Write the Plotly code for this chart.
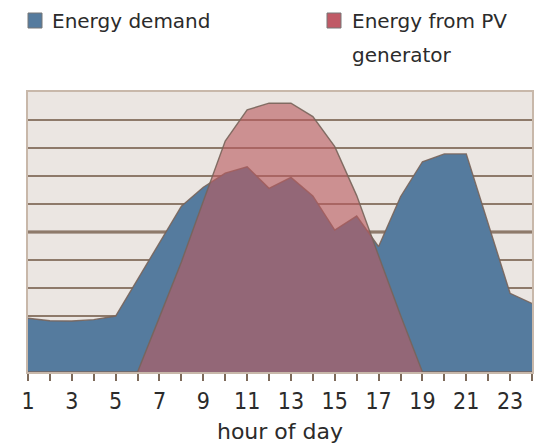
import plotly.graph_objects as go

hours = list(range(1, 25))
demand = [1.92, 1.83, 1.82, 1.87, 2.0, 3.32, 4.62, 5.92, 6.6, 7.1, 7.33, 6.56,
          6.95, 6.29, 5.07, 5.57, 4.48, 6.26, 7.51, 7.79, 7.79, 5.34, 2.81, 2.45]
pv = [0, 0, 0, 0, 0, 0, 1.96, 3.93, 6.1, 8.25, 9.36, 9.6,
      9.6, 9.12, 8.05, 6.3, 4.15, 2.03, 0, 0, 0, 0, 0, 0]
tick_labels = [str(h) for h in range(1, 25, 2)]
series_names = ["Energy demand", "Energy from PV", "generator"]

BLUE = "#557b9e"
PINK_FILL = "rgba(186,90,96,0.62)"
PINK_KEY = "#c05a66"
EDGE = "rgba(120,100,90,0.9)"
GRID = "#8e7a6a"
TEXT = "#2b2b2b"
FONT = "DejaVu Sans"
TICKFONT = "DejaVu Sans Condensed, DejaVu Sans"

fig = go.Figure()
fig.add_trace(go.Scatter(x=hours, y=demand, mode="lines", fill="tozeroy",
                         fillcolor=BLUE, line=dict(color=EDGE, width=1.4),
                         name=series_names[0], hoverinfo="x+y"))
fig.add_trace(go.Scatter(x=hours, y=pv, mode="lines", fill="tozeroy",
                         fillcolor=PINK_FILL, line=dict(color=EDGE, width=1.4),
                         name=series_names[1] + " " + series_names[2], hoverinfo="x+y"))

# emphasised mid line
fig.add_shape(type="line", xref="paper", yref="y", x0=0, x1=1, y0=5, y1=5,
              line=dict(color="#7a6352", width=3), layer="between")

W, H = 538, 447
L, R, T, B = 28, 6, 92, 75
pw, ph = W - L - R, H - T - B

def px(x):
    return (x - L) / pw

def py(y):
    return (H - B - y) / ph

# legend keys
for x0, col in [(28, BLUE), (327, PINK_KEY)]:
    fig.add_shape(type="rect", xref="paper", yref="paper",
                  x0=px(x0), x1=px(x0 + 14), y0=py(28), y1=py(13),
                  fillcolor=col, line=dict(color="#777777", width=1), layer="above")

fig.add_annotation(x=px(50), y=py(21), xref="paper", yref="paper", text=series_names[0],
                   xanchor="left", yanchor="middle", showarrow=False,
                   font=dict(family=FONT, size=20, color=TEXT))
fig.add_annotation(x=px(350), y=py(21), xref="paper", yref="paper", text=series_names[1],
                   xanchor="left", yanchor="middle", showarrow=False,
                   font=dict(family=FONT, size=20, color=TEXT))
fig.add_annotation(x=px(350), y=py(55), xref="paper", yref="paper", text=series_names[2],
                   xanchor="left", yanchor="middle", showarrow=False,
                   font=dict(family=FONT, size=20, color=TEXT))

fig.update_layout(
    width=W, height=H,
    margin=dict(l=L, r=R, t=T, b=B, autoexpand=False),
    paper_bgcolor="white", plot_bgcolor="#ebe6e2",
    showlegend=False,
    xaxis=dict(range=[1, 24], tickmode="array",
               tickvals=list(range(1, 25, 2)), ticktext=tick_labels,
               ticks="outside", ticklen=7, tickwidth=1.5, tickcolor="#7d6a5a",
               minor=dict(ticks="outside", dtick=1, tick0=1, ticklen=7,
                          tickwidth=1.5, tickcolor="#7d6a5a", showgrid=False),
               showgrid=False, zeroline=False,
               showline=True, linecolor="#c8b8aa", linewidth=2, mirror=True,
               tickfont=dict(family=TICKFONT, size=23, color=TEXT),
               title=dict(text="hour of day", standoff=11,
                          font=dict(family=FONT, size=22, color=TEXT))),
    yaxis=dict(range=[0, 10], tickmode="linear", tick0=0, dtick=1,
               showticklabels=False, ticks="",
               showgrid=True, gridcolor=GRID, gridwidth=1.5, zeroline=False,
               showline=True, linecolor="#c8b8aa", linewidth=2, mirror=True),
)

fig.write_html("out.html", config={"displayModeBar": False},
               post_script="document.body.style.margin='0';document.body.style.overflow='hidden';")
